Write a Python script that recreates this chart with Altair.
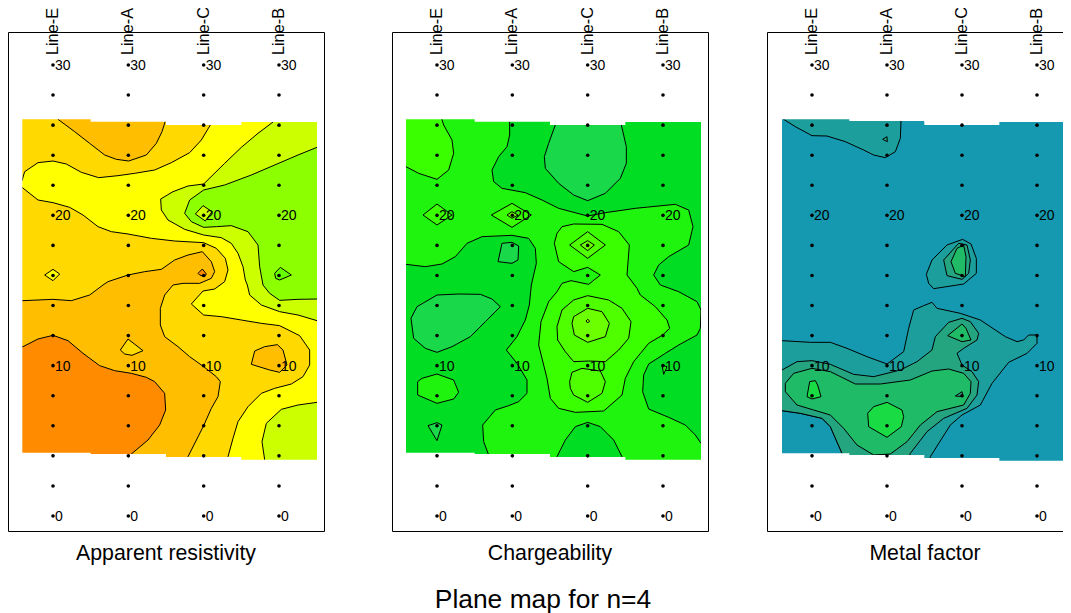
import altair as alt
import pandas as pd

LINES = ["Line-E", "Line-A", "Line-C", "Line-B"]
STATIONS = list(range(0, 31, 2))
LABELLED = [0, 10, 20, 30]
TITLES = ["Apparent resistivity", "Chargeability", "Metal factor"]
MAIN_TITLE = "Plane map for n=4"

OR, AM, GO, YE, LI, GR, GR2 = "#FF8C00", "#FFBF00", "#FFD900", "#FFFF00", "#CCFF00", "#8CFF00", "#66FF00"
DK, MD, BR, LM, LT, DU = "#00DD22", "#1FF40E", "#39FF00", "#4FFF00", "#6CFF00", "#19D94A"
T0, T1, T2, T3, T4 = "#1499B0", "#1C9F9C", "#25A480", "#20BB66", "#19DB44"
BASE_COLOR = [GO, MD, T0]

# digitised contour outlines: (easting, northing-down) in survey grid units
P1 = [
 (AM, [(150,15),(150,28),(200,65),(245,100),(290,135),(325,148),(362,153),(415,135),(445,100),(462,65),(473,30),(473,15)]),
 (YE, [(30,212),(42,212),(50,185),(90,158),(135,153),(175,162),(220,187),(272,203),(330,197),(380,190),(440,180),(490,158),(545,128),(580,90),(607,45),(607,20),(795,20),(940,632),(940,877),(775,1060),(660,1060),(660,1040),(675,985),(690,935),(720,890),(760,850),(800,835),(850,822),(885,800),(905,765),(905,720),(875,677),(815,647),(760,640),(700,630),(640,620),(587,615),(550,582),(585,543),(620,537),(650,515),(660,480),(652,445),(625,415),(587,398),(500,393),(430,385),(360,372),(310,365),(270,350),(225,315),(185,292),(135,278),(90,270),(42,232),(30,232)]),
 (LI, [(795,20),(795,36),(750,70),(700,112),(650,160),(587,222),(540,228),(495,245),(458,267),(460,300),(480,330),(530,358),(587,375),(640,383),(670,400),(690,430),(705,470),(712,510),(718,525),(725,555),(760,585),(815,605),(870,615),(927,632),(940,632),(940,20)]),
 (GR, [(940,108),(927,112),(870,135),(800,165),(730,195),(650,225),(587,240),(545,270),(530,310),(550,335),(587,352),(625,350),(670,347),(720,365),(750,405),(755,470),(765,525),(785,550),(815,571),(870,568),(927,567),(940,567)]),
 (LI, [(940,877),(927,877),(870,885),(820,898),(775,940),(762,995),(770,1049),(775,1060),(940,1060)]),
 (AM, [(30,572),(45,572),(135,568),(190,572),(245,555),(285,525),(300,515),(360,495),(410,485),(460,478),(500,450),(540,435),(583,425),(610,455),(620,485),(610,505),(575,520),(525,520),(495,525),(470,555),(457,595),(457,645),(470,680),(510,710),(545,740),(587,770),(625,800),(637,815),(630,860),(610,895),(587,947),(540,1040),(535,1060),(30,1060)]),
 (OR, [(30,710),(45,710),(90,687),(135,676),(180,692),(225,730),(275,767),(320,782),(370,790),(415,802),(440,815),(470,850),(473,900),(455,945),(420,990),(370,1032),(350,1045),(30,1045)]),
 (GO, [(360,687),(405,722),(372,736),(350,732),(337,720)]),
 (AM, [(730,763),(740,723),(770,710),(808,704),(825,720),(837,765),(815,787),(785,780)]),
 (OR, [(570,490),(583,477),(595,492),(590,500),(575,495)]),
 (YE, [(110,495),(135,478),(155,492),(135,512)]),
 (LI, [(562,312),(585,287),(612,305),(592,333)]),
 (GR2, [(800,490),(817,472),(850,495),(815,510),(803,505)]),
]
P2 = [
 (BR, [(30,170),(42,170),(80,190),(135,208),(170,180),(185,130),(180,90),(155,45),(147,20),(30,20)]),
 (DK, [(353,20),(353,75),(345,110),(320,140),(300,180),(305,215),(330,235),(400,248),(450,270),(500,295),(587,318),(640,308),(730,295),(850,283),(890,300),(903,350),(890,405),(830,440),(800,465),(785,495),(805,525),(860,545),(915,575),(927,600),(925,655),(915,675),(860,705),(820,730),(770,762),(755,795),(752,845),(770,897),(830,922),(880,945),(910,975),(927,1000),(940,1000),(940,20)]),
 (DK, [(30,463),(42,463),(100,470),(150,462),(190,440),(225,400),(270,380),(360,376),(410,385),(430,415),(433,460),(418,525),(412,585),(400,630),(375,680),(343,720),(375,760),(405,810),(405,850),(380,875),(350,887),(310,900),(272,945),(275,995),(290,1035),(290,1060),(30,1060)]),
 (BR, [(487,400),(495,370),(510,350),(545,342),(630,343),(680,365),(712,405),(705,495),(735,535),(745,555),(790,590),(825,630),(833,655),(812,675),(770,700),(725,755),(700,805),(690,855),(635,903),(550,907),(500,895),(475,865),(465,805),(440,705),(447,635),(470,575),(495,545),(510,520),(537,512),(590,523),(625,495),(587,472),(545,485),(500,455)]),
 (LM, [(495,650),(510,600),(545,570),(587,557),(650,570),(690,595),(717,635),(710,685),(680,720),(640,755),(590,753),(545,755),(520,725),(497,690)]),
 (LT, [(540,640),(545,620),(587,595),(630,605),(652,640),(640,680),(587,697),(547,675)]),
 (GR, [(582,633),(587,628),(593,633),(587,639)]),
 (LM, [(533,815),(540,787),(570,775),(625,783),(640,815),(630,850),(587,877),(545,855),(535,835)]),
 (DK, [(495,1040),(520,990),(550,950),(587,937),(625,950),(665,990),(690,1040),(695,1060),(490,1060)]),
 (DU, [(490,20),(490,45),(470,100),(457,140),(460,175),(500,220),(545,255),(587,272),(640,250),(685,205),(703,160),(703,110),(688,45),(688,20)]),
 (LM, [(533,405),(587,365),(640,405),(587,445)]),
 (LT, [(565,405),(587,392),(607,405),(587,422)]),
 (BR, [(93,315),(135,282),(180,315),(135,345)]),
 (BR, [(298,315),(360,280),(418,315),(360,352)]),
 (LT, [(345,315),(360,305),(378,315),(360,325)]),
 (DU, [(330,400),(360,397),(380,408),(378,450),(360,460),(318,455)]),
 (DU, [(57,625),(75,590),(135,555),(200,552),(265,553),(300,567),(325,590),(280,635),(235,680),(180,710),(135,727),(100,715),(65,685)]),
 (MD, [(77,815),(90,805),(135,792),(185,810),(200,847),(185,867),(135,880),(77,855)]),
 (DU, [(108,947),(135,938),(150,945),(135,992)]),
 (MD, [(810,765),(825,770),(815,793)]),
]
P3 = [
 (T1, [(50,15),(50,28),(85,50),(135,77),(180,78),(235,95),(290,120),(320,135),(355,143),(385,125),(400,85),(402,33),(402,15)]),
 (T2, [(347,88),(360,80),(361,95)]),
 (T1, [(478,493),(495,450),(540,405),(587,388),(612,402),(628,445),(628,490),(590,522),(500,536),(485,520)]),
 (T2, [(530,450),(575,400),(600,405),(610,450),(605,490),(585,508),(540,497)]),
 (T3, [(552,455),(570,415),(590,405),(597,440),(595,500),(565,490)]),
 (T1, [(30,692),(45,692),(130,697),(190,697),(240,715),(300,740),(360,762),(410,725),(425,655),(440,600),(470,587),(495,577),(510,595),(580,610),(640,630),(670,650),(715,680),(750,695),(770,690),(785,675),(810,675),(810,700),(780,730),(725,757),(675,820),(640,885),(585,915),(550,945),(490,1040),(490,1060),(225,1060),(225,1030),(190,950),(165,925),(100,910),(45,902),(30,902)]),
 (T2, [(30,780),(45,780),(90,755),(135,752),(190,763),(260,793),(320,800),(400,780),(450,755),(495,720),(505,680),(545,637),(585,625),(610,635),(635,670),(630,690),(590,715),(570,730),(585,765),(615,785),(635,815),(630,855),(600,895),(530,925),(480,965),(430,1030),(420,1060),(225,1060),(225,1030),(190,950),(165,925),(100,910),(45,902),(30,902)]),
 (T3, [(55,845),(55,820),(80,790),(135,775),(190,785),(265,822),(340,822),(430,810),(495,783),(545,777),(590,790),(612,815),(610,850),(590,885),(510,905),(460,945),(420,995),(370,1032),(320,1035),(270,1005),(230,955),(190,915),(140,900),(90,885)]),
 (T3, [(542,677),(585,642),(597,655),(612,690),(585,695)]),
 (T4, [(120,860),(128,815),(145,812),(152,825),(162,860),(135,867)]),
 (T4, [(302,910),(320,890),(360,877),(405,900),(410,920),(403,950),(360,982),(305,950)]),
 (T2, [(565,858),(585,845),(588,860)]),
]
# survey footprint of the interpolated surface: column edges, top and bottom limits
EDGE_COLS = [[43, 248, 474, 700, 927], [42, 248, 474, 700, 927], [45, 247, 472, 697, 960]]
EDGE_TOP = [[28, 35, 45, 36], [28, 35, 45, 36], [28, 33, 45, 36]]
EDGE_BOT = [[1028, 1032, 1041, 1049], [1028, 1032, 1041, 1049], [1030, 1035, 1044, 1052]]
LINE_EAST = [[135, 361, 587, 813], [135, 361, 587, 813], [135, 360, 585, 810]]
PANEL_OFFSET = [0, 1152, 2277]
FRAME_X = (1.5, 949.5)

TOTAL_W, TOTAL_H = 1055, 605
X_DOM = [0, 3165]
Y_DOM = [(1218 - (3 * (8 + TOTAL_H) - 330)) / 45.1, (1218 + 306) / 45.1]
FONT = "Liberation Sans"

xe = alt.X("x:Q", scale=alt.Scale(domain=X_DOM, nice=False, zero=False, clamp=True), axis=None)
ye = alt.Y("y:Q", scale=alt.Scale(domain=Y_DOM, nice=False, zero=False), axis=None)


def to_y(v):
    return (1218 - v) / 45.1


def panel_layers(idx, polys):
    off = PANEL_OFFSET[idx]
    layers = []
    cols, tops, bots = EDGE_COLS[idx], EDGE_TOP[idx], EDGE_BOT[idx]
    base = pd.DataFrame([{"x": 20 + off, "x2": 945 + off, "y": to_y(10), "y2": to_y(1070)}])
    layers.append(alt.Chart(base).mark_rect(color=BASE_COLOR[idx], strokeWidth=0).encode(x=xe, x2="x2:Q", y=ye, y2="y2:Q"))
    for color, pts in polys:
        df = pd.DataFrame({"x": [p[0] + off for p in pts], "y": [to_y(p[1]) for p in pts], "i": range(len(pts))})
        layers.append(
            alt.Chart(df).mark_line(interpolate="linear-closed", fill=color, stroke="black", strokeWidth=1)
            .encode(x=xe, y=ye, order="i:Q")
        )
    rows = []
    right_end = 948 if idx < 2 else 960
    for lim in sorted(set(tops)):
        ks = [k for k in range(4) if tops[k] >= lim]
        rows.append((6 if ks[0] == 0 else cols[ks[0]], right_end if ks[-1] == 3 else cols[ks[-1] + 1], -225, lim))
    for lim in sorted(set(bots), reverse=True):
        ks = [k for k in range(4) if bots[k] <= lim]
        rows.append((6 if ks[0] == 0 else cols[ks[0]], right_end if ks[-1] == 3 else cols[ks[-1] + 1], lim, 1255))
    rows.append((6, cols[0], -225, 1255))
    if idx < 2:
        rows.append((cols[4], right_end, -225, 1255))
    mask = pd.DataFrame(
        [{"x": a + off, "x2": b + off, "y": to_y(c), "y2": to_y(d)} for a, b, c, d in rows]
    )
    layers.append(
        alt.Chart(mask).mark_rect(color="white", strokeWidth=0)
        .encode(x=xe, x2="x2:Q", y=ye, y2="y2:Q")
    )
    # frame of the panel (the third one runs off the page at the right)
    l, r = FRAME_X[0] + off, FRAME_X[1] + off
    top, bot = to_y(-232.5), to_y(1264.5)
    segs = [(l, r, top, top), (l, r, bot, bot), (l, l, bot, top)]
    if idx < 2:
        segs.append((r, r, bot, top))
    frame = pd.DataFrame([{"x": a, "x2": b, "y": c, "y2": d} for a, b, c, d in segs])
    layers.append(alt.Chart(frame).mark_rule(color="black", strokeWidth=1).encode(x=xe, x2="x2:Q", y=ye, y2="y2:Q"))

    east = LINE_EAST[idx]
    grid = pd.DataFrame([{"x": east[i] + off, "y": st} for i in range(4) for st in STATIONS])
    layers.append(alt.Chart(grid).mark_circle(color="black", size=13, opacity=1).encode(x=xe, y=ye))
    lab = pd.DataFrame([{"x": east[i] + off, "y": st, "t": str(st)} for i in range(4) for st in LABELLED])
    layers.append(
        alt.Chart(lab).mark_text(align="left", baseline="middle", dx=2, dy=1, fontSize=14, font=FONT, color="black")
        .encode(x=xe, y=ye, text="t:N")
    )
    heads = pd.DataFrame([{"x": east[i] + off, "y": 30.66, "t": n} for i, n in enumerate(LINES)])
    layers.append(
        alt.Chart(heads).mark_text(align="left", baseline="middle", angle=270, fontSize=16.3, font=FONT, color="black")
        .encode(x=xe, y=ye, text="t:N")
    )
    ttl = pd.DataFrame([{"x": 474 + off, "y": -2.53, "t": TITLES[idx]}])
    layers.append(
        alt.Chart(ttl).mark_text(align="center", baseline="middle", fontSize=21.3, font=FONT, color="black")
        .encode(x=xe, y=ye, text="t:N")
    )
    return layers


main = pd.DataFrame([{"x": 1605, "y": -5.59, "t": MAIN_TITLE}])
main_layer = alt.Chart(main).mark_text(align="center", baseline="middle", fontSize=26.4, font=FONT, color="black").encode(x=xe, y=ye, text="t:N")

all_layers = panel_layers(0, P1) + panel_layers(1, P2) + panel_layers(2, P3) + [main_layer]
chart = (
    alt.layer(*all_layers)
    .properties(width=TOTAL_W, height=TOTAL_H, padding=0, background="white",
                autosize=alt.AutoSizeParams(type="none"))
    .configure_view(stroke=None)
)
chart.save("out.html", embed_options={"renderer": "svg", "actions": False})
